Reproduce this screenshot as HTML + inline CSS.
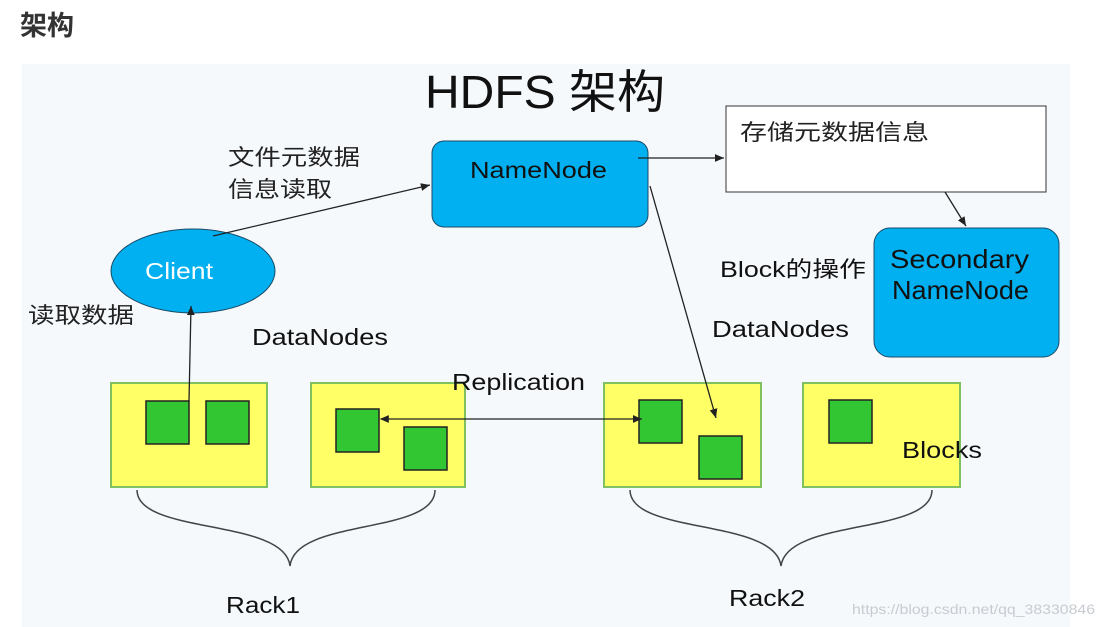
<!DOCTYPE html>
<html><head><meta charset="utf-8"><style>
body{margin:0;background:#fff;width:1104px;height:627px;overflow:hidden}
svg{display:block}
text{font-family:"Liberation Sans","Noto Sans CJK SC",sans-serif}
</style></head><body>
<svg width="1104" height="627" viewBox="0 0 1104 627">
<defs><marker id="a" markerWidth="8" markerHeight="8" refX="7" refY="4" orient="auto"><path d="M0,1 L7,4 L0,7" fill="#222"/></marker>
<marker id="b" markerWidth="8" markerHeight="8" refX="1" refY="4" orient="auto"><path d="M7,1 L0,4 L7,7" fill="#222"/></marker></defs>
<text x="20" y="35" font-size="27" font-weight="bold" fill="#333">架构</text>
<rect x="22" y="64" width="1048" height="563" fill="#f5f9fc"/>
<text x="425" y="108" font-size="46" fill="#111" textLength="240" lengthAdjust="spacingAndGlyphs">HDFS 架构</text>
<rect x="432" y="141" width="216" height="86" rx="12" fill="#00b0f0" stroke="#1a4b66"/>
<text x="470" y="178" font-size="23" fill="#111" textLength="137" lengthAdjust="spacingAndGlyphs">NameNode</text>
<rect x="726" y="106" width="320" height="86" fill="#fff" stroke="#333"/>
<text x="740" y="140" font-size="22" fill="#222" textLength="189" lengthAdjust="spacingAndGlyphs">存储元数据信息</text>
<rect x="874" y="228" width="185" height="129" rx="16" fill="#00b0f0" stroke="#1a4b66"/>
<text x="890" y="268" font-size="26" fill="#111" textLength="139" lengthAdjust="spacingAndGlyphs">Secondary</text>
<text x="892" y="299" font-size="26" fill="#111" textLength="137" lengthAdjust="spacingAndGlyphs">NameNode</text>
<ellipse cx="193" cy="271" rx="82" ry="42" fill="#00b0f0" stroke="#1a4b66"/>
<text x="145" y="279" font-size="23" fill="#fff" textLength="68" lengthAdjust="spacingAndGlyphs">Client</text>
<text x="228" y="165" font-size="22" fill="#222" textLength="132" lengthAdjust="spacingAndGlyphs">文件元数据</text>
<text x="228" y="197" font-size="22" fill="#222" textLength="104" lengthAdjust="spacingAndGlyphs">信息读取</text>
<text x="28" y="323" font-size="22" fill="#222" textLength="106" lengthAdjust="spacingAndGlyphs">读取数据</text>
<text x="252" y="345" font-size="23" fill="#111" textLength="136" lengthAdjust="spacingAndGlyphs">DataNodes</text>
<text x="712" y="337" font-size="23" fill="#111" textLength="137" lengthAdjust="spacingAndGlyphs">DataNodes</text>
<text x="720" y="277" font-size="22" fill="#111" textLength="146" lengthAdjust="spacingAndGlyphs">Block的操作</text>
<g fill="#ffff66" stroke="#7fc060" stroke-width="2">
<rect x="111" y="383" width="156" height="104"/><rect x="311" y="383" width="154" height="104"/>
<rect x="604" y="383" width="157" height="104"/><rect x="803" y="383" width="157" height="104"/></g>
<text x="452" y="390" font-size="23" fill="#111" textLength="133" lengthAdjust="spacingAndGlyphs">Replication</text>
<g fill="#33c633" stroke="#222" stroke-width="1.5">
<rect x="146" y="401" width="43" height="43"/><rect x="206" y="401" width="43" height="43"/>
<rect x="336" y="409" width="43" height="43"/><rect x="404" y="427" width="43" height="43"/>
<rect x="639" y="400" width="43" height="43"/><rect x="699" y="436" width="43" height="43"/>
<rect x="829" y="400" width="43" height="43"/></g>
<text x="902" y="458" font-size="23" fill="#111" textLength="80" lengthAdjust="spacingAndGlyphs">Blocks</text>
<g stroke="#222" stroke-width="1.3" fill="none">
<line x1="213" y1="236" x2="430" y2="185" marker-end="url(#a)"/>
<line x1="189" y1="401" x2="191" y2="306" marker-end="url(#a)"/>
<line x1="638" y1="158" x2="724" y2="158" marker-end="url(#a)"/>
<line x1="945" y1="192" x2="966" y2="226" marker-end="url(#a)"/>
<line x1="650" y1="186" x2="716" y2="418" marker-end="url(#a)"/>
<line x1="381" y1="419" x2="642" y2="419" marker-start="url(#b)" marker-end="url(#a)"/>
<path d="M137,490 C137,535 285,518 290,566 C295,518 435,535 435,490" stroke="#444" stroke-width="1.5"/>
<path d="M630,490 C630,535 775,518 781,566 C787,518 932,535 932,490" stroke="#444" stroke-width="1.5"/>
</g>
<text x="226" y="613" font-size="23" fill="#111" textLength="74" lengthAdjust="spacingAndGlyphs">Rack1</text>
<text x="729" y="606" font-size="23" fill="#111" textLength="76" lengthAdjust="spacingAndGlyphs">Rack2</text>
<text x="852" y="614" font-size="14" fill="#c8ccd2" textLength="243" lengthAdjust="spacingAndGlyphs">https://blog.csdn.net/qq_38330846</text>
</svg>
</body></html>
